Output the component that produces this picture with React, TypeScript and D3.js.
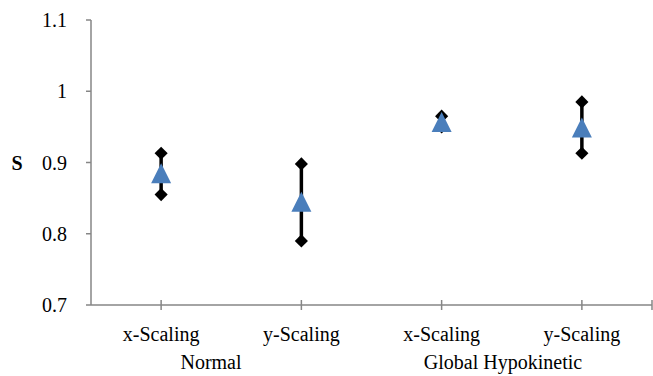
import React, { useEffect, useRef } from 'react';
import * as d3 from 'd3';

const categories = ['x-Scaling', 'y-Scaling', 'x-Scaling', 'y-Scaling'];
const groups = ['Normal', 'Global Hypokinetic'];
const highValues = [0.913, 0.898, 0.965, 0.985];
const lowValues = [0.855, 0.79, 0.95, 0.913];
const meanValues = [0.885, 0.845, 0.957, 0.949];
const yTicks = [0.7, 0.8, 0.9, 1, 1.1];

const App = () => {
  const chRef = useRef(null);

  useEffect(() => {
    const width = 653;
    const height = 376;
    const left = 91;
    const right = 652;
    const top = 20;
    const bottom = 305;

    const root = d3.select(chRef.current);
    root.selectAll('*').remove();

    const svg = root
      .append('svg')
      .attr('width', width)
      .attr('height', height)
      .style('position', 'absolute')
      .style('left', 0)
      .style('top', 0)
      .attr('font-family', 'Liberation Serif, Times New Roman, serif');

    const x = d3
      .scaleBand()
      .domain(d3.range(categories.length))
      .range([left, right]);
    const y = d3.scaleLinear().domain([0.7, 1.1]).range([bottom, top]);
    const cx = (i) => x(i) + x.bandwidth() / 2;

    const axisColor = '#868686';

    // y axis
    svg
      .append('line')
      .attr('x1', left)
      .attr('x2', left)
      .attr('y1', top)
      .attr('y2', bottom)
      .attr('stroke', axisColor)
      .attr('stroke-width', 1.5);

    svg
      .selectAll('.ytick')
      .data(yTicks)
      .enter()
      .append('line')
      .attr('x1', left - 5)
      .attr('x2', left)
      .attr('y1', (d) => y(d))
      .attr('y2', (d) => y(d))
      .attr('stroke', axisColor)
      .attr('stroke-width', 1.5);

    svg
      .selectAll('.ylabel')
      .data(yTicks)
      .enter()
      .append('text')
      .attr('x', 67)
      .attr('y', (d) => y(d))
      .attr('dy', '0.35em')
      .attr('text-anchor', 'end')
      .attr('font-size', 20)
      .attr('fill', '#000')
      .text((d) => (d === 1 ? '1' : d3.format('.1f')(d)));

    svg
      .append('text')
      .attr('x', 17)
      .attr('y', y(0.9))
      .attr('dy', '0.35em')
      .attr('text-anchor', 'middle')
      .attr('font-size', 20)
      .attr('font-weight', 700)
      .text('S');

    // x axis
    svg
      .append('line')
      .attr('x1', left)
      .attr('x2', right)
      .attr('y1', bottom)
      .attr('y2', bottom)
      .attr('stroke', axisColor)
      .attr('stroke-width', 1.5);

    const xTickPos = d3.range(categories.length).map(cx).concat([right]);
    svg
      .selectAll('.xtick')
      .data(xTickPos)
      .enter()
      .append('line')
      .attr('x1', (d) => d)
      .attr('x2', (d) => d)
      .attr('y1', bottom - 5)
      .attr('y2', bottom + 5)
      .attr('stroke', axisColor)
      .attr('stroke-width', 1.5);

    svg
      .selectAll('.xlabel')
      .data(categories)
      .enter()
      .append('text')
      .attr('x', (d, i) => cx(i))
      .attr('y', 341)
      .attr('text-anchor', 'middle')
      .attr('font-size', 20)
      .text((d) => d);

    const groupX = [211, 503];
    svg
      .selectAll('.glabel')
      .data(groups)
      .enter()
      .append('text')
      .attr('x', (d, i) => groupX[i])
      .attr('y', 369)
      .attr('text-anchor', 'middle')
      .attr('font-size', 20)
      .text((d) => d);

    // high-low lines
    svg
      .selectAll('.hl')
      .data(categories)
      .enter()
      .append('line')
      .attr('x1', (d, i) => cx(i))
      .attr('x2', (d, i) => cx(i))
      .attr('y1', (d, i) => y(highValues[i]))
      .attr('y2', (d, i) => y(lowValues[i]))
      .attr('stroke', '#000')
      .attr('stroke-width', 3.5);

    const diamond = d3.symbol().type(d3.symbolDiamond2).size(110);
    const points = categories.flatMap((d, i) => [
      { i, v: highValues[i] },
      { i, v: lowValues[i] }
    ]);
    svg
      .selectAll('.dm')
      .data(points)
      .enter()
      .append('path')
      .attr('d', diamond)
      .attr('transform', (d) => `translate(${cx(d.i)},${y(d.v)})`)
      .attr('fill', '#000');

    // mean triangles, centred on their box like Excel markers
    const tri = (s) => `M0,${-s / 2}L${s / 2},${s / 2}L${-s / 2},${s / 2}Z`;
    svg
      .selectAll('.tri')
      .data(meanValues)
      .enter()
      .append('path')
      .attr('d', tri(20))
      .attr('transform', (d, i) => `translate(${cx(i)},${y(d)})`)
      .attr('fill', '#4a7ebb');
  }, []);

  return <div ref={chRef}></div>;
};

export default App;
